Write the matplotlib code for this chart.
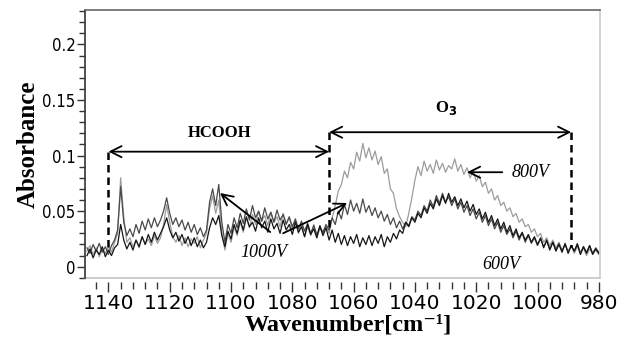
import numpy as np
import matplotlib
matplotlib.use('Agg')
import matplotlib.pyplot as plt
from matplotlib.ticker import MultipleLocator, FormatStrFormatter

# wavenumber grid, 1 cm-1 steps from 1147 down to 980
wn = np.arange(1147, 979, -1)

# absorbance in units of 1e-3
abs_800v = [14, 19, 11, 17, 9, 16, 12,
            18, 13, 22, 30,
            80, 45, 22,
            26, 18, 24, 17, 27, 20, 25, 19, 28, 21, 26,
            38, 56, 40, 27,
            22, 28, 19, 26, 18, 25, 21, 27, 17, 24, 30,
            52, 64, 48, 60, 30,
            15, 30, 22, 36, 28, 40, 31, 44, 35, 47, 38, 50, 41, 46, 37, 49, 40,
            45, 36, 48, 39, 44, 33, 42, 30, 39, 27, 36, 28, 38, 26, 35, 29, 37,
            30, 44, 55, 68, 74, 86, 80, 94, 88, 103, 95, 111, 98, 107, 96, 104,
            92, 99, 84, 88, 70, 66, 52, 45,
            40, 36, 48, 62,
            78, 90, 82, 95, 86, 92, 84, 96, 87, 93, 85, 91, 88, 97, 86, 92, 83,
            89, 80, 86, 77,
            82, 72, 76, 66, 70, 60, 64, 55, 58, 50, 53, 45, 48, 40, 43, 36, 38,
            31, 34, 27,
            30, 22, 26, 19, 24, 17, 22, 15, 20, 14, 19, 12, 18, 13, 17, 10, 16,
            12, 15, 11]

abs_1000v = [17, 12, 20, 14, 21, 13, 18,
             11, 19, 24, 33,
             72, 40, 28,
             34, 27, 38, 30, 41, 33, 43, 35, 44, 36, 42,
             50, 62, 48, 38,
             44, 36, 42, 33, 40, 31, 38, 29, 35, 27, 33,
             58, 70, 55, 74, 40,
             22, 38, 30, 44, 35, 48, 39, 52, 42, 55, 44, 50, 41, 53, 43, 49, 40,
             51, 42, 47, 38, 45, 36, 43, 34, 41, 32, 39, 30, 37, 29, 36, 31, 38,
             33, 44, 38, 50, 43, 56, 47, 60, 50, 57, 48, 61, 49, 55, 46, 53,
             44, 50, 41, 47, 38, 44, 35, 41,
             34, 40, 37, 45,
             42, 50, 46, 55, 50, 60, 54, 64, 57, 66, 58, 63, 55, 61, 52, 58, 49,
             55, 46, 52, 43,
             49, 40, 46, 37, 43, 34, 40, 31, 37, 29, 34, 26, 32, 24, 30, 22, 28,
             21, 26, 19,
             25, 18, 23, 16, 22, 15, 21, 14, 20, 13, 19, 14, 21, 12, 18, 13, 19,
             12, 17, 13]

abs_600v = [10, 16, 8, 15, 11, 18, 9,
            15, 10, 17, 20,
            38, 24, 16,
            22, 15, 24, 18, 27, 20, 29, 22, 31, 24, 30,
            36, 44, 33, 26,
            31, 23, 29, 21, 27, 19, 26, 18, 24, 17, 22,
            35, 44, 38, 46, 28,
            18, 32, 25, 38, 30, 42, 33, 45, 36, 40, 32, 44, 35, 41, 31, 43, 34,
            39, 30, 42, 33, 38, 29, 40, 31, 36, 27, 38, 29, 34, 26, 37, 28, 35,
            24, 33, 22, 30, 20, 28, 19, 27, 21, 29, 18, 26, 20, 28, 19, 27,
            21, 29, 18, 27, 22, 30, 25, 33,
            30, 40, 36, 44,
            40, 48, 44, 53, 48, 57, 52, 61, 55, 64, 57, 66, 58, 63, 55, 61, 53,
            59, 50, 56, 47,
            52, 43, 49, 40, 46, 37, 43, 34, 40, 31, 37, 28, 34, 26, 31, 24, 29,
            22, 27, 20,
            26, 17, 24, 15, 22, 14, 20, 13, 21, 12, 19, 14, 20, 11, 18, 12, 19,
            11, 16, 12]

# band ranges (cm-1)
hcooh_band = (1140, 1068)
o3_band = (1068, 989)

sans = ['DejaVu Sans', 'Liberation Sans']
serif = ['Liberation Serif', 'DejaVu Serif']

fig = plt.figure(figsize=(6.26, 3.43), dpi=100)
ax = fig.add_axes([0.136, 0.19, 0.823, 0.781])

ax.plot(wn, np.array(abs_800v) / 1000, color='#9c9c9c', lw=0.9)
ax.plot(wn, np.array(abs_1000v) / 1000, color='#4a4a4a', lw=0.9)
ax.plot(wn, np.array(abs_600v) / 1000, color='#151515', lw=0.9)

ax.set_xlim(1147.6, 979.5)
ax.set_ylim(-0.010, 0.231)

# brackets
head = '<->,head_length=0.8,head_width=0.4'
ax.annotate('', xy=(hcooh_band[0], 0.1035), xytext=(hcooh_band[1], 0.1035),
            arrowprops=dict(arrowstyle=head, color='black', lw=1.3,
                            shrinkA=0, shrinkB=0))
ax.annotate('', xy=(o3_band[0], 0.121), xytext=(o3_band[1], 0.121),
            arrowprops=dict(arrowstyle=head, color='black', lw=1.3,
                            shrinkA=0, shrinkB=0))
ax.plot([hcooh_band[0], hcooh_band[0]], [0.1035, 0.015], color='black', lw=1.8,
        dashes=(3, 2))
ax.plot([o3_band[0], o3_band[0]], [0.121, 0.035], color='black', lw=1.8,
        dashes=(3, 2))
ax.plot([o3_band[1], o3_band[1]], [0.121, 0.018], color='black', lw=1.8,
        dashes=(3, 2))

ax.text(1103.6, 0.1207, 'HCOOH', family=serif, fontweight='bold', fontsize=12,
        ha='center', va='center')
ax.text(1029.8, 0.143, r'O$_\mathbf{3}$', family=serif, fontweight='bold',
        fontsize=12, ha='center', va='center')

# curve labels
arr = dict(arrowstyle='->,head_length=0.8,head_width=0.4', color='black',
           lw=1.3, shrinkA=0, shrinkB=0)
ax.annotate('', xy=(1103.6, 0.0663), xytext=(1087.2, 0.0312), arrowprops=arr)
ax.annotate('', xy=(1062.1, 0.0573), xytext=(1083, 0.0301), arrowprops=arr)
ax.annotate('', xy=(1023, 0.085), xytext=(1011.5, 0.085), arrowprops=arr)
ax.text(1089.4, 0.0128, '1000V', family=serif, style='italic', fontsize=13,
        ha='center', va='center')
ax.text(1002.4, 0.085, '800V', family=serif, style='italic', fontsize=13,
        ha='center', va='center')
ax.text(1011.7, 0.002, '600V', family=serif, style='italic', fontsize=13,
        ha='center', va='center')

# axes
ax.xaxis.set_major_locator(MultipleLocator(20))
ax.xaxis.set_minor_locator(MultipleLocator(4))
ax.yaxis.set_major_locator(MultipleLocator(0.05))
ax.yaxis.set_minor_locator(MultipleLocator(0.01))
ax.yaxis.set_major_formatter(FormatStrFormatter('%g'))
ax.tick_params(which='both', direction='out', color='#333333', width=1)
ax.tick_params(axis='y', which='major', length=6)
ax.tick_params(axis='y', which='minor', length=4)
ax.tick_params(axis='x', which='major', length=7)
ax.tick_params(axis='x', which='minor', length=5)
ax.tick_params(axis='x', labelsize=14.5, pad=2)
ax.tick_params(axis='y', labelsize=12, pad=1)
for lab in ax.get_xticklabels() + ax.get_yticklabels():
    lab.set_family(sans)
    lab.set_fontstretch('condensed')

# x ticks hang a little below the frame
ax.spines['bottom'].set_position(('outward', 3))
ax.spines['bottom'].set_visible(False)
ax.plot([0, 1], [0, 0], transform=ax.transAxes, color='#c4c4c4', lw=1.2,
        clip_on=False)
ax.spines['left'].set_color('#333333')
ax.spines['top'].set_color('#666666')
ax.spines['right'].set_color('#cccccc')
for s in ax.spines.values():
    s.set_linewidth(1.2)

fig.text(0.556, 0.035, 'Wavenumber[cm\u207b\u00b9]', family=serif,
         fontweight='bold', fontsize=17.5, ha='center', va='baseline')
ax.set_ylabel('Absorbance', family=serif, fontweight='bold', fontsize=18,
              labelpad=2)

fig.savefig('out.png', dpi=100)
